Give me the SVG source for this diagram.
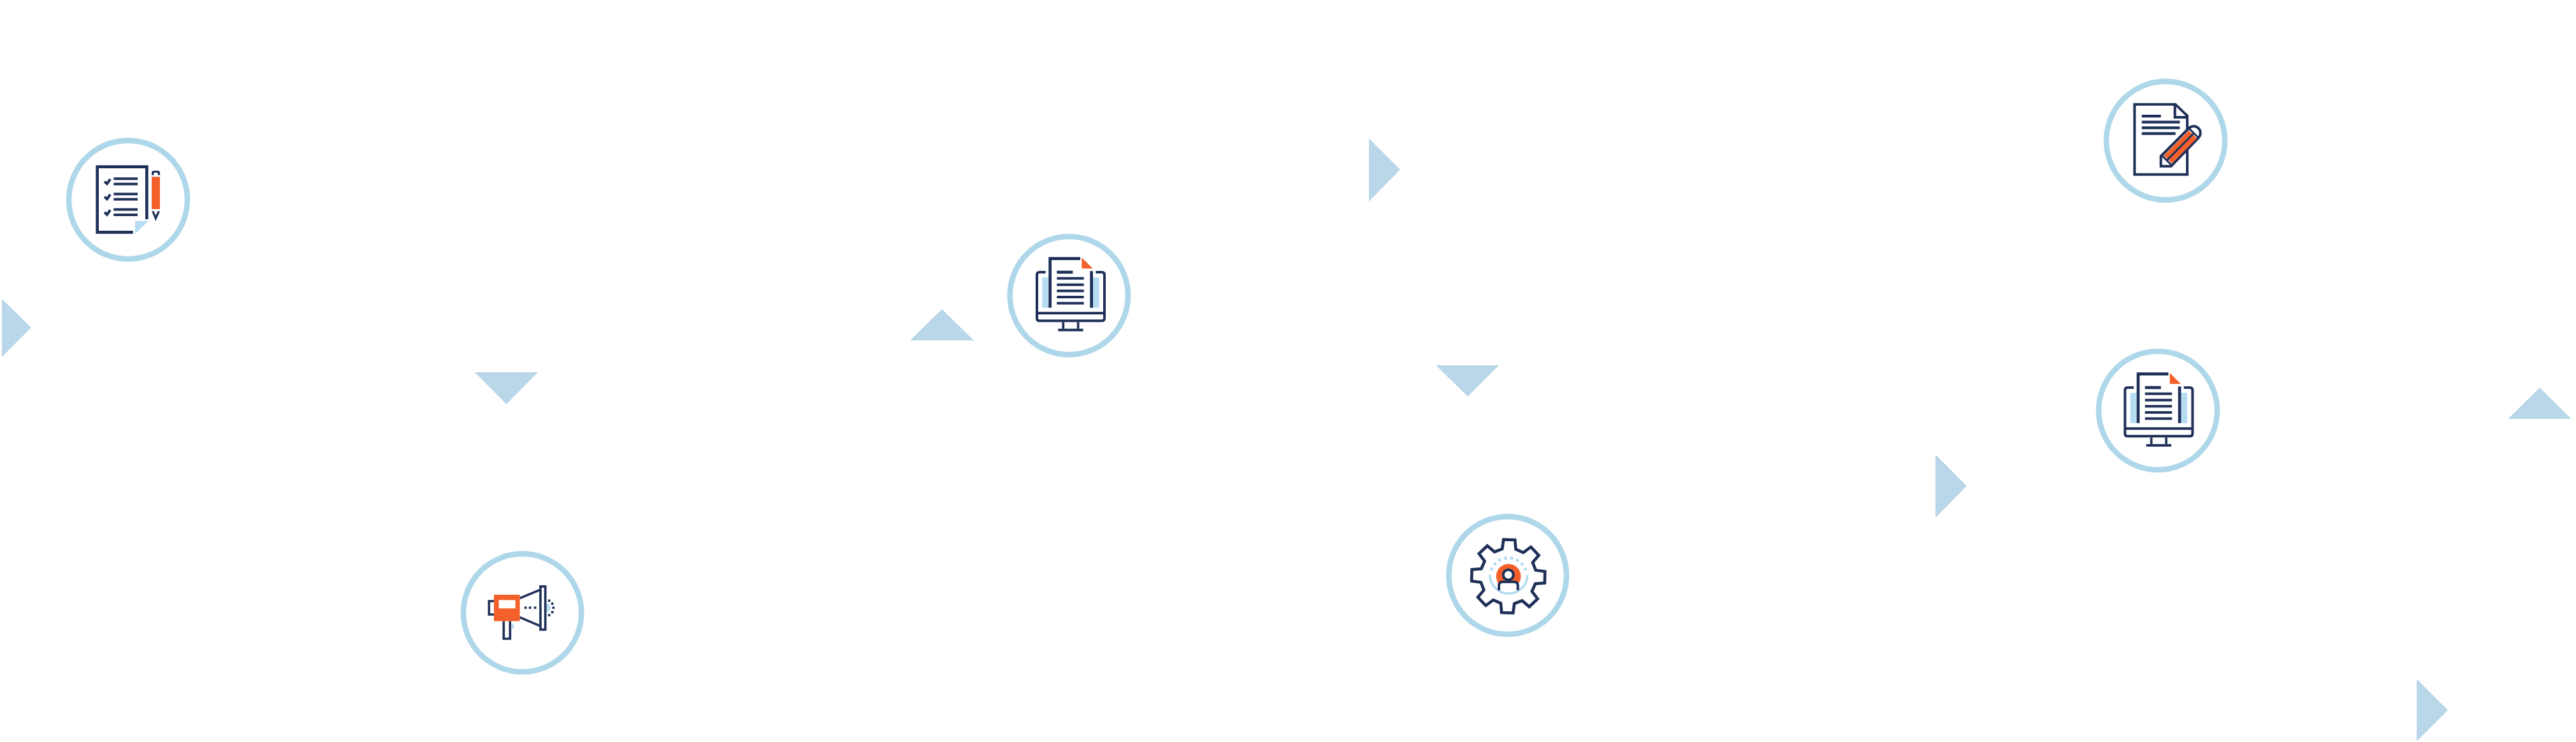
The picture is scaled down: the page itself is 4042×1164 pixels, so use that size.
<svg xmlns="http://www.w3.org/2000/svg" xmlns:xlink="http://www.w3.org/1999/xlink" width="4042" height="1164" viewBox="0 0 4042 1164">
<style>
.ring{fill:#fff;stroke:#afd7ea;stroke-width:26}
.tri{fill:#b9d7e9}
.n{fill:#1e2f58}
.o{fill:#f4602a}
.l{fill:#b5dcf0}
.w{fill:#fff}
.s{fill:none;stroke:#1e2f58;stroke-width:14;stroke-linejoin:miter}
.s10{fill:none;stroke:#1e2f58;stroke-width:11}
.fw{fill:#fff;stroke:#1e2f58;stroke-width:12}
</style>
<defs>
<g id="monitor">
<rect class="l" x="196" y="256" width="30" height="142"/>
<rect class="l" x="434" y="256" width="30" height="142"/>
<path class="s" style="stroke-width:12" d="M212 231H183Q171 231 171 243V448Q171 460 183 460H477Q489 460 489 448V243Q489 231 477 231H448M171 424H489"/>
<path class="s10" d="M295 466V497M365 466V497"/>
<rect class="n" x="271" y="497" width="118" height="12"/>
<path class="s" d="M233 398V167H375M428 226V398"/>
<polygon class="o" points="382,162 382,214 434,214"/>
<rect class="n" x="265" y="224" width="75" height="14"/>
<rect class="n" x="265" y="254" width="127" height="12"/>
<rect class="n" x="265" y="284" width="127" height="12"/>
<rect class="n" x="265" y="313" width="127" height="12"/>
<rect class="n" x="265" y="342" width="127" height="12"/>
<rect class="n" x="265" y="371" width="127" height="12"/>
</g>
<g id="listrow">
<path class="s10" style="stroke-width:12" d="M222 254L234 265L249 243"/>
<rect class="n" x="265" y="235" width="113" height="12"/>
<rect class="n" x="265" y="260" width="113" height="12"/>
</g>
<rect id="dot" class="n" x="-5.500" y="-5.500" width="11" height="11"/>
</defs>

<g id="connectors">
<polygon class="tri" points="3,469 49,514 3,560"/>
<polygon class="tri" points="745,584 844,584 794.500,634"/>
<polygon class="tri" points="1428,534 1528,534 1478,485"/>
<polygon class="tri" points="2148,217 2197,266 2148,316"/>
<polygon class="tri" points="2253,573 2352,573 2303,622"/>
<polygon class="tri" points="3037,713 3086,762.500 3037,812"/>
<polygon class="tri" points="3935.500,657 4034.500,657 3985,608"/>
<polygon class="tri" points="3792,1065 3841,1114 3792,1163"/>
</g>

<g id="node-checklist" transform="translate(90 200) scale(.33333)">
<circle class="ring" cx="333" cy="340" r="279"/>
<path class="s" d="M356 493H188V185H421V432"/>
<polygon class="l" points="366,440 428,440 366,500"/>
<use xlink:href="#listrow" href="#listrow"/>
<use xlink:href="#listrow" href="#listrow" y="72"/>
<use xlink:href="#listrow" href="#listrow" y="145"/>
<path class="n" d="M444 224V214Q444 203 455 203H472Q483 203 483 214V224H473V216Q473 212 469 212H458Q454 212 454 216V224Z"/>
<rect class="o" x="444" y="232" width="39" height="152"/>
<path class="n" d="M444 394H454L463 414L473 394H483L463 440Z"/>
</g>

<g id="node-monitor-1" transform="translate(1570 350) scale(.33333)">
<circle class="ring" cx="322" cy="341" r="278"/>
<use xlink:href="#monitor" href="#monitor"/>
</g>

<g id="node-megaphone" transform="translate(710 850) scale(.33333)">
<circle class="ring" cx="329" cy="334" r="278"/>
<path class="s10" d="M195 279H172V342H195"/>
<path class="s10" d="M241 373V456H271V373"/>
<rect class="l" x="278" y="388" width="10" height="20"/>
<path class="s10" d="M317 265L410 227M317 355L410 395"/>
<path class="l" d="M442 290A20 20 0 0 1 442 330Z"/>
<rect class="s10" x="414" y="210" width="23" height="203"/>
<rect class="o" x="195" y="249" width="122" height="124"/>
<rect class="w" x="218" y="274" width="78" height="39"/>
<use xlink:href="#dot" href="#dot" x="344" y="310"/>
<use xlink:href="#dot" href="#dot" x="365" y="310"/>
<use xlink:href="#dot" href="#dot" x="389" y="310"/>
<use xlink:href="#dot" href="#dot" x="455" y="277"/>
<use xlink:href="#dot" href="#dot" x="470" y="291"/>
<use xlink:href="#dot" href="#dot" x="475" y="310"/>
<use xlink:href="#dot" href="#dot" x="470" y="331"/>
<use xlink:href="#dot" href="#dot" x="455" y="345"/>
</g>

<g id="node-gear" transform="translate(2255 790) scale(.33333)">
<circle class="ring" cx="332" cy="338" r="277"/>
<polygon class="s" transform="translate(335 342) rotate(1.500)" points="-32,-128 -27,-172 27,-172 32,-128 67.900,-113.100 102.500,-140.700 140.700,-102.500 113.100,-67.900 128,-32 172,-27 172,27 128,32 113.100,67.900 140.700,102.500 102.500,140.700 67.900,113.100 32,128 27,172 -27,172 -32,128 -67.900,113.100 -102.500,140.700 -140.700,102.500 -113.100,67.900 -128,32 -172,27 -172,-27 -128,-32 -113.100,-67.900 -140.700,-102.500 -102.500,-140.700 -67.900,-113.100"/>
<path fill="none" stroke="#b5dcf0" stroke-width="14" stroke-dasharray="14 14.600" d="M254 314A87 87 0 0 1 418 314"/>
<path fill="none" stroke="#b5dcf0" stroke-width="11" d="M248 335A88 88 0 0 0 425 335"/>
<circle class="o" cx="336" cy="342" r="58"/>
<path class="fw" d="M291 408V385Q291 368 310 368H360Q380 368 380 385V408"/>
<circle class="fw" cx="335" cy="335" r="24"/>
</g>

<g id="node-document" transform="translate(3290 110) scale(.33333)">
<circle class="ring" cx="324" cy="332" r="279"/>
<path class="fw" d="M178 161H370L426 215V491H178Z"/>
<path class="s10" style="stroke-width:12" d="M368 161V222H426"/>
<rect class="n" x="212" y="210" width="90" height="13"/>
<rect class="n" x="212" y="238" width="179" height="13"/>
<rect class="n" x="212" y="265" width="179" height="13"/>
<rect class="n" x="212" y="292" width="159" height="13"/>
<path class="fw" d="M302 405L436 271A32 32 0 0 1 481 316L350 452H302Z"/>
<polygon class="o" points="316,401 433,284 449,300 332,417"/>
<polygon class="o" points="337.500,422.500 454.500,305.500 471,322 354,439"/>
<path class="s10" style="stroke-width:9" d="M329.750 424.750L457 297M306 401L353.500 448.500M435 275L478 318"/>
</g>

<g id="node-monitor-2" transform="translate(3275 535) scale(.33333)">
<circle class="ring" cx="333" cy="327" r="279"/>
<use xlink:href="#monitor" href="#monitor" x="7" y="-12"/>
</g>
</svg>
